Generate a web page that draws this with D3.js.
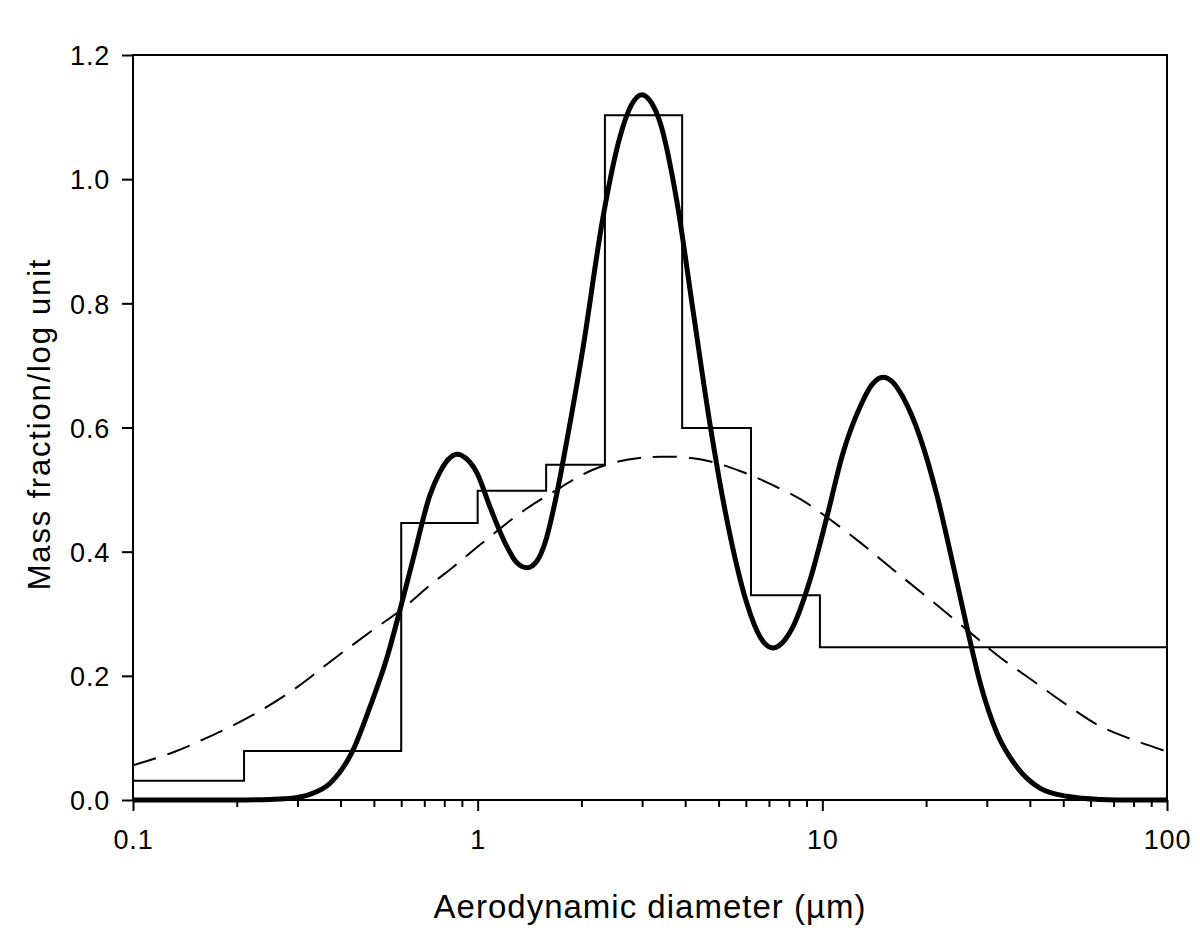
<!DOCTYPE html>
<html>
<head>
<meta charset="utf-8">
<script src="https://cdn.jsdelivr.net/npm/d3@7"></script>
<style>
  html, body { margin: 0; padding: 0; background: #fff; }
  svg { display: block; }
  text { font-family: "Liberation Sans", Arial, Helvetica, sans-serif; fill: #000; }
</style>
</head>
<body>
<svg id="chart" width="1200" height="952"></svg>
<script>
// ---- Data ----
// Histogram (impactor stages): bin edges (µm) and mass fraction per log unit
const binEdges = [0.1, 0.21, 0.6, 1.0, 1.58, 2.34, 3.92, 6.21, 9.84, 100];
const binMass  = [0.031, 0.079, 0.446, 0.498, 0.540, 1.103, 0.599, 0.330, 0.246];

// Multimodal fit (thick solid curve)
const fitDiam = [0.1, 0.2, 0.25, 0.29, 0.326, 0.373, 0.432, 0.487, 0.546, 0.595, 0.649,
  0.727, 0.777, 0.820, 0.871, 0.931, 0.995, 1.086, 1.216, 1.300, 1.390, 1.486, 1.568, 1.699,
  1.816, 2.021, 2.309, 2.587, 2.784, 2.997, 3.183, 3.380, 3.787, 4.214, 4.719, 5.287, 6.044,
  6.592, 7.190, 7.789, 8.216, 9.205, 10.31, 11.48, 12.86, 13.93, 14.99, 16.02, 17.13, 19.19,
  21.50, 23.77, 26.45, 28.66, 32.10, 36.70, 42.79, 51.25, 63.88, 80, 100];
const fitMass = [0.000, 0.000, 0.001, 0.003, 0.009, 0.027, 0.077, 0.150, 0.230, 0.306, 0.387,
  0.491, 0.528, 0.548, 0.557, 0.549, 0.527, 0.472, 0.408, 0.382, 0.374, 0.385, 0.414, 0.495,
  0.580, 0.728, 0.938, 1.068, 1.118, 1.136, 1.124, 1.092, 0.963, 0.789, 0.606, 0.451, 0.316,
  0.263, 0.245, 0.258, 0.279, 0.354, 0.456, 0.559, 0.633, 0.669, 0.681, 0.673, 0.649, 0.585,
  0.491, 0.387, 0.271, 0.190, 0.108, 0.053, 0.019, 0.006, 0.001, 0.000, 0.000];

// Single-mode fit (dashed curve)
const dashDiam = [0.1, 0.131, 0.171, 0.223, 0.291, 0.380, 0.497, 0.599, 0.727, 0.848, 1.016,
  1.327, 1.654, 2.160, 2.711, 3.380, 4.415, 5.768, 7.190, 8.610, 9.645, 12.60, 16.46, 21.50,
  27.35, 32.75, 40.83, 51.25, 63.88, 79.62, 100];
const dashMass = [0.056, 0.077, 0.105, 0.137, 0.177, 0.226, 0.274, 0.306, 0.346, 0.375, 0.411,
  0.462, 0.496, 0.532, 0.548, 0.553, 0.549, 0.530, 0.507, 0.485, 0.467, 0.419, 0.366, 0.314,
  0.266, 0.230, 0.192, 0.153, 0.119, 0.097, 0.078];

// Axis ticks
const xTickValues = [0.1, 1, 10, 100];
const xTickLabels = ["0.1", "1", "10", "100"];
const yTickValues = [0, 0.2, 0.4, 0.6, 0.8, 1.0, 1.2];
const yTickLabels = ["0.0", "0.2", "0.4", "0.6", "0.8", "1.0", "1.2"];

// ---- Drawing ----
const svg = d3.select("#chart");
const L = 133, R = 1167, T = 55, B = 800;

const x = d3.scaleLog().domain([0.1, 100]).range([L, R]);
const y = d3.scaleLinear().domain([0, 1.2]).range([B, T]);

// Histogram as step path
const stepPts = [];
binMass.forEach((v, i) => {
  stepPts.push([binEdges[i], v]);
  stepPts.push([binEdges[i + 1], v]);
});
svg.append("path")
  .attr("d", d3.line().x(d => x(d[0])).y(d => y(d[1]))(stepPts))
  .attr("fill", "none").attr("stroke", "#000").attr("stroke-width", 2)
  .attr("stroke-linejoin", "miter");

// Dashed curve
const dashPts = dashDiam.map((d, i) => [d, dashMass[i]]);
svg.append("path")
  .attr("d", d3.line().x(d => x(d[0])).y(d => y(d[1])).curve(d3.curveCatmullRom.alpha(0.5))(dashPts))
  .attr("fill", "none").attr("stroke", "#000").attr("stroke-width", 2)
  .attr("stroke-dasharray", "24,12");

// Thick fit curve
const fitPts = fitDiam.map((d, i) => [d, fitMass[i]]);
svg.append("path")
  .attr("d", d3.line().x(d => x(d[0])).y(d => y(d[1])).curve(d3.curveMonotoneX)(fitPts))
  .attr("fill", "none").attr("stroke", "#000").attr("stroke-width", 5)
  .attr("stroke-linejoin", "round");

// Frame
svg.append("rect")
  .attr("x", L).attr("y", T).attr("width", R - L).attr("height", B - T)
  .attr("fill", "none").attr("stroke", "#000").attr("stroke-width", 2);

// Y axis
const yAxis = d3.axisLeft(y).tickValues(yTickValues)
  .tickFormat((d, i) => yTickLabels[i]).tickSize(11).tickPadding(12);
const gy = svg.append("g").attr("transform", `translate(${L},0)`).call(yAxis);
gy.select(".domain").remove();
gy.selectAll("line").attr("stroke", "#000").attr("stroke-width", 2);
gy.selectAll("text").attr("font-size", 27).attr("letter-spacing", 0.8)
  .attr("font-family", "Liberation Sans, Arial, sans-serif").attr("dy", "0.36em");

// X axis: minor ticks
const minor = [];
[0.1, 1, 10].forEach(dec => { for (let k = 2; k <= 9; k++) minor.push(dec * k); });
const gxm = svg.append("g").attr("transform", `translate(0,${B})`)
  .call(d3.axisBottom(x).tickValues(minor).tickFormat("").tickSize(7));
gxm.select(".domain").remove();
gxm.selectAll("line").attr("stroke", "#000").attr("stroke-width", 2);

// X axis: major ticks
const gx = svg.append("g").attr("transform", `translate(0,${B})`)
  .call(d3.axisBottom(x).tickValues(xTickValues).tickFormat((d, i) => xTickLabels[i])
    .tickSize(11).tickPadding(19));
gx.select(".domain").remove();
gx.selectAll("line").attr("stroke", "#000").attr("stroke-width", 2);
gx.selectAll("text").attr("font-size", 27).attr("letter-spacing", 0.8)
  .attr("font-family", "Liberation Sans, Arial, sans-serif");

// Axis titles
svg.append("text")
  .attr("x", (L + R) / 2).attr("y", 918)
  .attr("text-anchor", "middle").attr("font-size", 33).attr("letter-spacing", 1)
  .text("Aerodynamic diameter (µm)");

svg.append("text")
  .attr("transform", `translate(50,${424}) rotate(-90)`)
  .attr("text-anchor", "middle").attr("font-size", 31).attr("letter-spacing", 1.8)
  .text("Mass fraction/log unit");
</script>
</body>
</html>
